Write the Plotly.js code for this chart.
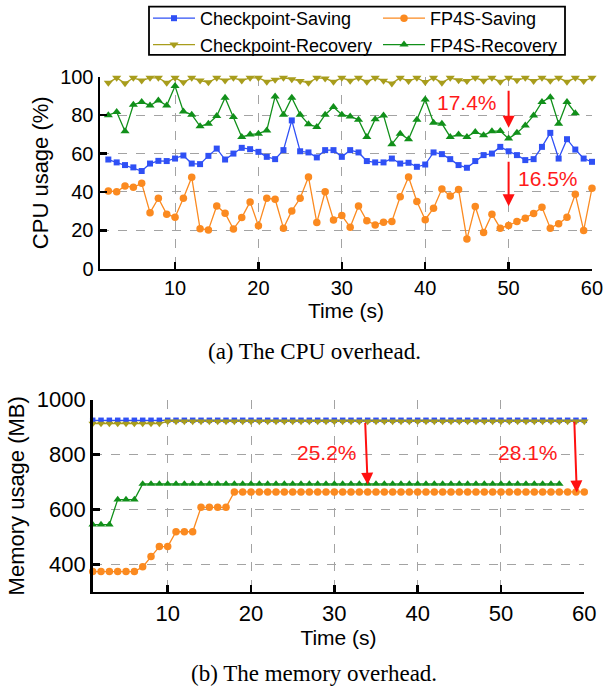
<!DOCTYPE html>
<html><head><meta charset="utf-8">
<script src="https://cdn.plot.ly/plotly-3.0.1.min.js"></script>
<style>html,body{margin:0;padding:0;background:#fff}#chart{width:603px;height:689px}</style>
</head><body><div id="chart"></div>
<script>
// ---------- (a) CPU overhead ----------
const cpuTime = [2,3,4,5,6,7,8,9,10,11,12,13,14,15,16,17,18,19,20,21,22,23,24,25,26,27,28,29,30,31,32,33,34,35,36,37,38,39,40,41,42,43,44,45,46,47,48,49,50,51,52,53,54,55,56,57,58,59,60];
const cpuTimeRec = [2,3,4,5,6,7,8,9,10,11,12,13,14,15,16,17,18,19,20,21,22,23,24,25,26,27,28,29,30,31,32,33,34,35,36,37,38,39,40,41,42,43,44,45,46,47,48,49,50,51,52,53,54,55,56,57,58];
const cpuCkptSaving = [56.9,55.4,54.0,52.8,50.9,54.8,56.2,56.1,57.4,59.0,54.8,54.5,58.8,62.6,56.9,60.0,63.0,62.3,60.9,
  58.3,57.1,61.8,77.3,61.2,60.6,58.0,61.8,61.8,58.3,61.8,60.6,56.1,55.4,55.4,57.4,54.8,55.2,53.1,54.3,
  60.6,59.7,57.1,54.0,52.6,56.1,59.2,60.0,63.5,61.2,59.2,56.6,57.1,63.5,70.8,57.4,67.5,62.1,57.4,55.7];
const cpuFp4sSaving = [40.5,40.1,43.1,42.4,44.5,29.2,36.7,28.4,26.8,36.7,47.6,20.8,20.2,32.7,28.9,20.6,26.6,34.8,22.3,
  36.7,36.2,21.1,30.1,36.7,47.8,24.0,40.1,25.4,27.7,21.6,32.7,24.9,22.8,24.2,24.6,37.5,47.8,35.0,25.5,
  31.5,41.5,37.9,41.3,15.4,32.4,18.9,28.4,21.1,22.5,24.6,26.3,28.7,32.0,21.1,23.4,26.8,38.8,19.9,41.9];
const cpuCkptRecovery = [96.9,99.5,96.7,99.5,98.1,99.5,99.5,96.9,99.5,97.2,99.5,98.1,97.2,99.5,98.1,99.5,98.1,99.5,99.5,
  97.5,98.5,99.5,98.8,97.8,96.9,99.5,99.2,97.5,99.5,98.0,99.5,97.5,99.5,98.0,96.6,99.5,97.8,99.5,97.3,
  99.5,97.0,99.5,98.2,97.8,99.5,98.0,99.5,97.5,99.5,98.2,99.5,97.8,99.5,98.0,99.5,97.5,99.5,97.8,99.5];
const cpuFp4sRecovery = [80.0,81.7,71.6,85.5,86.9,85.1,87.7,85.1,95.2,82.0,80.3,74.2,75.6,79.6,89.1,79.1,68.7,69.9,70.4,
  72.1,89.8,80.3,89.1,80.3,75.3,73.9,80.3,84.3,80.3,79.4,77.7,68.7,77.9,79.9,64.9,70.4,67.5,77.7,88.2,
  76.1,75.6,68.7,69.9,68.7,71.3,69.6,71.6,71.8,67.8,70.8,74.7,79.9,86.9,89.4,75.6,86.9,81.1];

// ---------- (b) Memory overhead ----------
const memTime = [1,2,3,4,5,6,7,8,9,10,11,12,13,14,15,16,17,18,19,20,21,22,23,24,25,26,27,28,29,30,31,32,33,34,35,36,37,38,39,40,41,42,43,44,45,46,47,48,49,50,51,52,53,54,55,56,57,58,59,60];
const memTimeRec = [1,2,3,4,5,6,7,8,9,10,11,12,13,14,15,16,17,18,19,20,21,22,23,24,25,26,27,28,29,30,31,32,33,34,35,36,37,38,39,40,41,42,43,44,45,46,47,48,49,50,51,52,53,54,55,56,57];
const memCkptSaving = [925,925,925,925,925,925,925,925,925,925,925,925,925,925,925,925,925,925,925,925,925,925,925,925,925,925,925,925,925,925,925,925,925,925,925,925,925,925,925,925,925,925,925,925,925,925,925,925,925,925,925,925,925,925,925,925,925,925,925,925];
const memCkptRecovery = [913,913,913,913,913,913,913,913,913,921,921,921,921,921,921,921,921,921,921,921,921,921,921,921,921,921,921,921,921,921,921,921,921,921,921,921,921,921,921,921,921,921,921,921,921,921,921,921,921,921,921,921,921,921,921,921,921,921,921,921];
const memFp4sSaving = [374,374,374,374,374,374,391,429,465,465,519,519,519,608,608,608,608,664,664,664,664,664,664,664,664,664,664,664,664,664,664,664,664,664,664,664,664,664,664,664,664,664,664,664,664,664,664,664,664,664,664,664,664,664,664,664,664,664,664,664];
const memFp4sRecovery = [545,545,545,636,636,636,693,693,693,693,693,693,693,693,693,693,693,693,693,693,693,693,693,693,693,693,693,693,693,693,693,693,693,693,693,693,693,693,693,693,693,693,693,693,693,693,693,693,693,693,693,693,693,693,693,693,693];

const seriesNames = ['Checkpoint-Saving','FP4S-Saving','Checkpoint-Recovery','FP4S-Recovery'];
const xTicks = [10,20,30,40,50,60];
const cpuTicks = [0,20,40,60,80,100];
const memTicks = [400,600,800,1000];

// annotation labels
const cpuNotes = [{t:'17.4%', x:45.0, y:86.5}, {t:'16.5%', x:54.7, y:47}];
const memNotes = [{t:'25.2%', x:29.1, y:807}, {t:'28.1%', x:53.3, y:807}];

const BLUE='#2f50f5', ORANGE='#fb8a20', OLIVE='#a89d1c', GREEN='#11901a';
const FONT='Liberation Sans, Arial, sans-serif';
const SERIF='Liberation Serif, Times New Roman, serif';

function tr(x,y,name,color,sym,size,xa,ya,show,leg){
  return {x:x,y:y,name:name,type:'scatter',mode:'lines+markers',xaxis:xa,yaxis:ya,showlegend:show,legend:leg,cliponaxis:false,
    line:{color:color,width:1.3},marker:{color:color,symbol:sym,size:size}};
}
const data = [
  tr(cpuTime,cpuCkptSaving,seriesNames[0],BLUE,'square',6,'x','y',true,'legend'),
  tr(cpuTime,cpuFp4sSaving,seriesNames[1],ORANGE,'circle',7.5,'x','y',true,'legend2'),
  tr(cpuTime,cpuCkptRecovery,seriesNames[2],OLIVE,'triangle-down',8,'x','y',true,'legend'),
  tr(cpuTimeRec,cpuFp4sRecovery,seriesNames[3],GREEN,'triangle-up',8,'x','y',true,'legend2'),
  tr(memTime,memCkptSaving,seriesNames[0],BLUE,'square',5.5,'x2','y2',false,'legend'),
  tr(memTime,memFp4sSaving,seriesNames[1],ORANGE,'circle',7.5,'x2','y2',false,'legend'),
  tr(memTime,memCkptRecovery,seriesNames[2],OLIVE,'triangle-down',7.5,'x2','y2',false,'legend'),
  tr(memTimeRec,memFp4sRecovery,seriesNames[3],GREEN,'triangle-up',7.5,'x2','y2',false,'legend')
];

const axBase = {showline:true,linecolor:'#000',linewidth:2.5,mirror:false,ticks:'inside',ticklen:7,tickwidth:2.5,tickcolor:'#000',
  showgrid:true,gridcolor:'#a3a3a3',griddash:'dash',gridwidth:1,zeroline:false,ticklabeloverflow:'allow',
  tickfont:{family:FONT,size:20,color:'#000'}};

const ann = [];
cpuNotes.forEach(n=>ann.push({xref:'x',yref:'y',x:n.x,y:n.y,text:n.t,showarrow:false,font:{family:FONT,size:21,color:'#ff1a1a'}}));
memNotes.forEach(n=>ann.push({xref:'x2',yref:'y2',x:n.x,y:n.y,text:n.t,showarrow:false,font:{family:FONT,size:21,color:'#ff1a1a'}}));
// arrows
const arrows = [
  {xr:'x',yr:'y',x:50,y:73.5,ax:50,ay:93.5},
  {xr:'x',yr:'y',x:50,y:32.5,ax:50,ay:56.5},
  {xr:'x2',yr:'y2',x:34,y:690,ax:33.7,ay:921},
  {xr:'x2',yr:'y2',x:59.1,y:662,ax:58.8,ay:925}
];
arrows.forEach(a=>ann.push({xref:a.xr,yref:a.yr,axref:a.xr,ayref:a.yr,x:a.x,y:a.y,ax:a.ax,ay:a.ay,text:'',showarrow:true,
  arrowhead:2,arrowsize:1.2,arrowwidth:2,arrowcolor:'#ff1010'}));
// captions
ann.push({xref:'paper',yref:'paper',x:314/603,y:1-351/689,xanchor:'center',yanchor:'middle',text:'(a) The CPU overhead.',showarrow:false,font:{family:SERIF,size:23,color:'#000'}});
ann.push({xref:'paper',yref:'paper',x:314/603,y:1-673/689,xanchor:'center',yanchor:'middle',text:'(b) The memory overhead.',showarrow:false,font:{family:SERIF,size:23,color:'#000'}});

const legBase = {orientation:'v',y:1+1/689,yanchor:'top',xanchor:'left',borderwidth:0,bgcolor:'rgba(0,0,0,0)',
  font:{family:FONT,size:18,color:'#000'},itemwidth:42,tracegroupgap:0};

const layout = {
  width:603,height:689,margin:{l:0,r:0,t:0,b:0},paper_bgcolor:'#fff',plot_bgcolor:'#fff',
  font:{family:FONT,color:'#000'},
  xaxis:Object.assign({},axBase,{domain:[100/603,592/603],range:[1,60.001],tickvals:xTicks,anchor:'y',
    title:{text:'Time (s)',font:{family:FONT,size:21},standoff:2}}),
  yaxis:Object.assign({},axBase,{domain:[1-268/689,1-76/689],range:[0,100],tickvals:cpuTicks,anchor:'x',
    title:{text:'CPU usage (%)',font:{family:FONT,size:22},standoff:6}}),
  xaxis2:Object.assign({},axBase,{domain:[92.7/603,584.3/603],range:[1,60.001],tickvals:xTicks,anchor:'y2',
    tickfont:{family:FONT,size:22,color:'#000'},
    title:{text:'Time (s)',font:{family:FONT,size:21},standoff:2}}),
  yaxis2:Object.assign({},axBase,{domain:[1-591.7/689,1-399.3/689],range:[300,1000],tickvals:memTicks,anchor:'x2',
    tickfont:{family:FONT,size:22,color:'#000'},
    title:{text:'Memory usage (MB)',font:{family:FONT,size:22},standoff:6}}),
  legend:Object.assign({},legBase,{x:148/603}),
  legend2:Object.assign({},legBase,{x:378/603}),
  shapes:[{type:'rect',xref:'paper',yref:'paper',x0:149/603,x1:565/603,y0:1-54/689,y1:1-5.7/689,
    line:{color:'#000',width:1.8},fillcolor:'rgba(0,0,0,0)',layer:'above'}],
  annotations:ann,
  showlegend:true
};
Plotly.newPlot('chart',data,layout,{displayModeBar:false,staticPlot:true});
</script>
</body></html>
